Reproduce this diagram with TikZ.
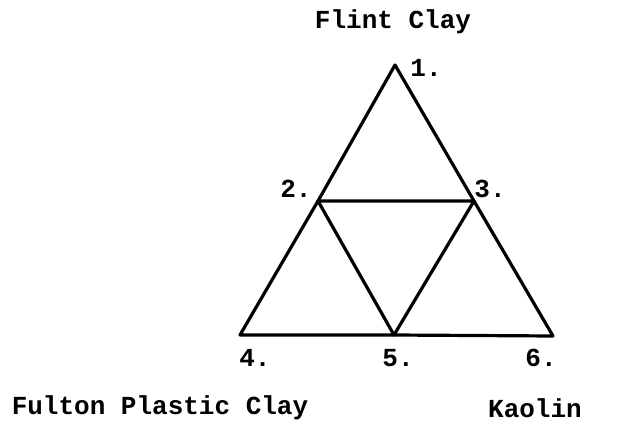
\documentclass[tikz,border=0pt]{standalone}
\usepackage{fontspec}
\setmonofont{Liberation Mono}
\usepackage{tikz}
\usetikzlibrary{positioning}

\begin{document}
\begin{tikzpicture}[x=1pt, y=-1pt, edge/.style={line width=3.2pt, line join=round, line cap=round},
  lab/.style={font=\ttfamily\bfseries\fontsize{26}{28}\selectfont, inner sep=0pt}]
\useasboundingbox (0,0) rectangle (624,425);
\coordinate (p1) at (395,65);
\coordinate (p2) at (318,201);
\coordinate (p3) at (474,201);
\coordinate (p4) at (240,335);
\coordinate (p5) at (394,335);
\coordinate (p6) at (553,336);
\draw[edge] (p1) -- (p2) -- (p4) -- (p5) -- (p6) -- (p3) -- cycle;
\draw[edge] (p2) -- (p3) -- (p5) -- cycle;
\node[lab] (flint) at (393,22) {Flint Clay};
\node[lab] (n1) at (426,68) {1.};
\node[lab] (n2) at (296,189) {2.};
\node[lab] (n3) at (490,189) {3.};
\node[lab] (n4) at (255,358) {4.};
\node[lab] (n5) at (398,358) {5.};
\node[lab] (n6) at (541,358) {6.};
\node[lab] (fulton) at (160,408) {Fulton Plastic Clay};
\node[lab] (kaolin) at (535,408) {Kaolin};
\end{tikzpicture}
\end{document}
